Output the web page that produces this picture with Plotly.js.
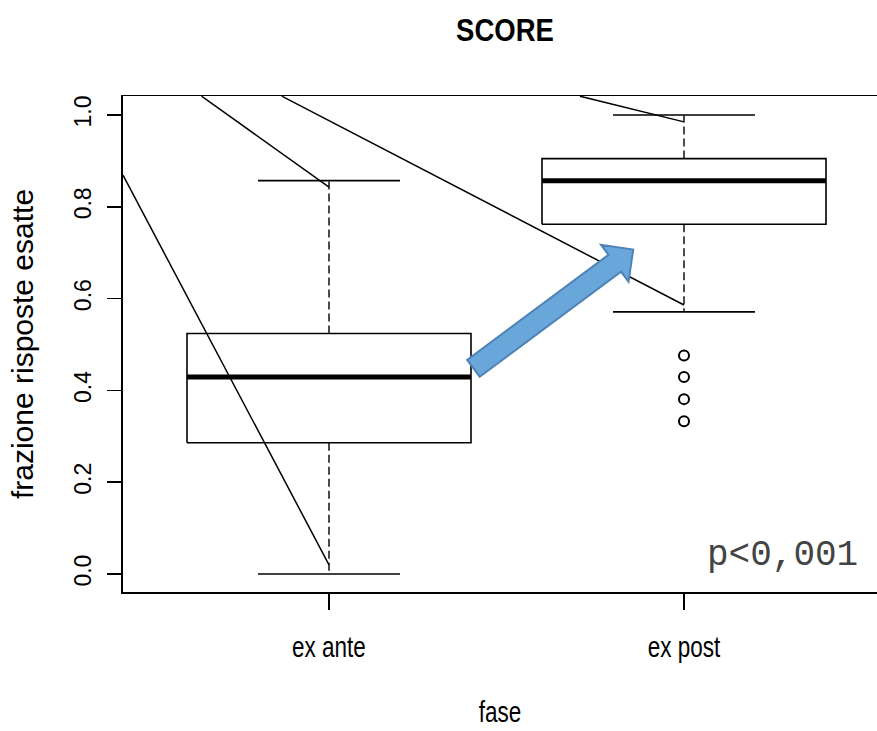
<!DOCTYPE html>
<html>
<head>
<meta charset="utf-8">
<script src="https://cdn.plot.ly/plotly-3.0.1.min.js"></script>
<style>html,body{margin:0;padding:0;background:#fff;}#chart{width:877px;height:731px;}</style>
</head>
<body>
<div id="chart"></div>
<script>
// ---- data ----
const categories = ['ex ante', 'ex post'];
const positions = [1, 2];
const q1 = [0.286, 0.762];
const medians = [0.429, 0.857];
const q3 = [0.524, 0.905];
const lowerWhisker = [0.0, 0.571];
const upperWhisker = [0.857, 1.0];
const outlierX = [2, 2, 2, 2];
const outlierY = [0.476, 0.429, 0.381, 0.333];
const yTickVals = [0, 0.2, 0.4, 0.6, 0.8, 1.0];
const yTickText = ['0.0', '0.2', '0.4', '0.6', '0.8', '1.0'];
// stray connector lines present in the original figure (start, end)
const strayX = [[0.4197, 1.0], [0.641, 1.0], [0.867, 2.0], [1.707, 2.0]];
const strayY = [[0.869, 0.020], [1.041, 0.843], [1.041, 0.586], [1.041, 0.985]];
// blue arrow: tail and tip in data units
const arrowTail = [1.407, 0.448];
const arrowTip = [1.857, 0.707];
const pText = 'p&lt;0,001';

// ---- layout constants ----
const W = 877, H = 731;
const M = {l: 123, r: 0, t: 96, b: 139};
const xRange = [0.4197, 2.5437];
const yRange = [-0.0392, 1.0414];
const plotW = W - M.l - M.r, plotH = H - M.t - M.b;
const boxHalf = 0.4, capHalf = 0.2;

const sans = '"Liberation Sans", Arial, sans-serif';

const traces = [];
positions.forEach((p, i) => {
  // box
  traces.push({
    x: [p - boxHalf, p + boxHalf, p + boxHalf, p - boxHalf, p - boxHalf],
    y: [q1[i], q1[i], q3[i], q3[i], q1[i]],
    mode: 'lines', line: {color: '#000', width: 1.6}, hoverinfo: 'skip', showlegend: false
  });
  // whiskers (dashed)
  traces.push({
    x: [p, p, null, p, p],
    y: [q3[i], upperWhisker[i], null, q1[i], lowerWhisker[i]],
    mode: 'lines', line: {color: '#000', width: 1.4, dash: '8px,4px'}, hoverinfo: 'skip', showlegend: false
  });
  // caps
  traces.push({
    x: [p - capHalf, p + capHalf, null, p - capHalf, p + capHalf],
    y: [upperWhisker[i], upperWhisker[i], null, lowerWhisker[i], lowerWhisker[i]],
    mode: 'lines', line: {color: '#000', width: 1.6}, hoverinfo: 'skip', showlegend: false
  });
  // median
  traces.push({
    x: [p - boxHalf, p + boxHalf],
    y: [medians[i], medians[i]],
    mode: 'lines', line: {color: '#000', width: 5}, hoverinfo: 'skip', showlegend: false
  });
});
// outliers
traces.push({
  x: outlierX, y: outlierY, mode: 'markers',
  marker: {symbol: 'circle-open', size: 10, color: '#000', line: {width: 2, color: '#000'}},
  hoverinfo: 'skip', showlegend: false
});
// stray lines
strayX.forEach((xs, i) => {
  traces.push({x: xs, y: strayY[i], mode: 'lines', line: {color: '#000', width: 1.5},
    hoverinfo: 'skip', showlegend: false});
});

// arrow geometry built in pixel space from the data tail/tip, then mapped back
const xPx = v => (v - xRange[0]) / (xRange[1] - xRange[0]) * plotW;
const yPx = v => (yRange[1] - v) / (yRange[1] - yRange[0]) * plotH;
const xDat = px => xRange[0] + px / plotW * (xRange[1] - xRange[0]);
const yDat = py => yRange[1] - py / plotH * (yRange[1] - yRange[0]);
function arrowPath(tail, tip, hw, hh, hl) {
  const T = [xPx(tail[0]), yPx(tail[1])], P = [xPx(tip[0]), yPx(tip[1])];
  const dx = P[0] - T[0], dy = P[1] - T[1], L = Math.hypot(dx, dy);
  const u = [dx / L, dy / L], n = [-u[1], u[0]];
  const B = [P[0] - u[0] * hl, P[1] - u[1] * hl];
  const pts = [
    [T[0] + n[0] * hw, T[1] + n[1] * hw],
    [B[0] + n[0] * hw, B[1] + n[1] * hw],
    [B[0] + n[0] * hh, B[1] + n[1] * hh],
    P,
    [B[0] - n[0] * hh, B[1] - n[1] * hh],
    [B[0] - n[0] * hw, B[1] - n[1] * hw],
    [T[0] - n[0] * hw, T[1] - n[1] * hw]
  ];
  return pts.map((q, k) => (k ? 'L' : 'M') + xDat(q[0]).toFixed(5) + ',' + yDat(q[1]).toFixed(5)).join(' ') + ' Z';
}

const layout = {
  width: W, height: H,
  margin: M,
  paper_bgcolor: '#fff', plot_bgcolor: '#fff',
  showlegend: false,
  title: {
    text: '<b>SCORE</b>', font: {family: sans, size: 32, color: '#000'},
    xref: 'container', x: 505 / W, xanchor: 'center',
    yref: 'container', y: 1 - 30 / H, yanchor: 'middle'
  },
  xaxis: {
    range: xRange, tickvals: positions, ticktext: categories,
    ticks: 'outside', ticklen: 16, tickwidth: 1.5, tickcolor: '#000',
    showline: true, linewidth: 1.5, linecolor: '#000', mirror: true,
    showgrid: false, zeroline: false,
    tickfont: {family: sans, size: 30, color: '#000'},
    ticklabelstandoff: 12,
    title: {text: 'fase', font: {family: sans, size: 30, color: '#000'}, standoff: 38}
  },
  yaxis: {
    range: yRange, tickvals: yTickVals, ticktext: yTickText, tickangle: -90,
    ticks: 'outside', ticklen: 14, tickwidth: 1.5, tickcolor: '#000',
    showline: true, linewidth: 2, linecolor: '#000', mirror: false,
    showgrid: false, zeroline: false,
    tickfont: {family: sans, size: 23, color: '#000'},
    ticklabelstandoff: 7,
    title: {text: 'frazione risposte esatte', font: {family: sans, size: 30, color: '#000'}, standoff: 27}
  },
  shapes: [{
    type: 'path', xref: 'x', yref: 'y',
    path: arrowPath(arrowTail, arrowTip, 10.5, 23, 23),
    fillcolor: '#69A7DA', line: {color: '#4F83B6', width: 2}, layer: 'above'
  }],
  annotations: [{
    text: pText, xref: 'x', yref: 'y', x: 2.497, y: 0.040,
    xanchor: 'right', yanchor: 'middle', showarrow: false,
    font: {family: '"Liberation Mono", "Courier New", monospace', size: 36, color: '#444'}
  }]
};

// narrow the horizontal texts around their anchor (original uses a condensed face)
function condense(sel, s) {
  document.querySelectorAll(sel).forEach(el => {
    const x = parseFloat(el.getAttribute('x')) || 0;
    const t = el.getAttribute('transform') || '';
    el.setAttribute('transform', (t + ' translate(' + x + ',0) scale(' + s + ',1) translate(' + (-x) + ',0)').trim());
  });
}

Plotly.newPlot('chart', traces, layout, {displayModeBar: false, staticPlot: true}).then(() => {
  condense('#chart .xtick text', 0.75);
  condense('#chart .g-xtitle text', 0.75);
  condense('#chart .g-gtitle text', 0.86);
});
</script>
</body>
</html>
